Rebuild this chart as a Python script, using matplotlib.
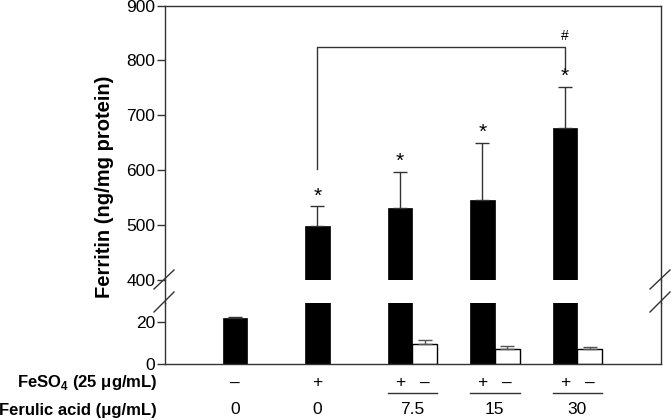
import numpy as np
import matplotlib
matplotlib.use('Agg')
import matplotlib.pyplot as plt
from matplotlib.lines import Line2D
from matplotlib.transforms import blended_transform_factory

plt.rcParams['font.family'] = ['Liberation Sans', 'DejaVu Sans']
plt.rcParams['mathtext.fontset'] = 'custom'
plt.rcParams['mathtext.rm'] = 'Liberation Sans'
plt.rcParams['mathtext.bf'] = 'Liberation Sans:bold'

# data
groups = ['0', '0', '7.5', '15', '30']
feso4_mean = [21.8, 499, 531, 546, 677]
feso4_err = [0.4, 35, 66, 104, 75]
fa_groups = [2, 3, 4]
fa_mean = [9.4, 7.0, 7.3]
fa_err = [1.9, 1.7, 0.9]
feso4_row = ['–', '+', '+', '+', '+']
sig_star = [False, True, True, True, True]

width = 0.30
x_black = np.arange(len(groups))
x_white = np.array(fa_groups) + width
edge = '#333333'

fig = plt.figure(figsize=(6.72, 4.2), dpi=100)
L, R = 165 / 672, 661 / 672
ax_top = fig.add_axes([L, 1 - 280 / 420, R - L, (280 - 5.5) / 420])
ax_bot = fig.add_axes([L, 1 - 364 / 420, R - L, (364 - 303) / 420])

for ax in (ax_top, ax_bot):
    ax.bar(x_black, feso4_mean, width, color='black', edgecolor='black', lw=0.5)
    ax.errorbar(x_black, feso4_mean, yerr=[np.zeros(5), feso4_err], fmt='none',
                ecolor=edge, elinewidth=1, capsize=5, capthick=1)
    ax.bar(x_white, fa_mean, width, color='white', edgecolor='black', lw=1)
    ax.errorbar(x_white, fa_mean, yerr=[np.zeros(3), fa_err], fmt='none',
                ecolor='#555555', elinewidth=1, capsize=5, capthick=1)
    ax.set_xlim(-0.848, 5.164)
    ax.set_xticks([])
    for s in ax.spines.values():
        s.set_color(edge)
        s.set_linewidth(1)
    ax.tick_params(axis='y', direction='out', length=6, width=1, color=edge,
                   labelsize=12.5, pad=1)

ax_top.set_ylim(400, 900)
ax_top.set_yticks([400, 500, 600, 700, 800, 900])
ax_top.spines['bottom'].set_visible(False)
ax_bot.set_ylim(0, 29)
ax_bot.set_yticks([0, 20])
ax_bot.spines['top'].set_visible(False)

# spines across the gap
for xf in (L, R):
    fig.add_artist(Line2D([xf, xf], [1 - 303 / 420, 1 - 280 / 420], color=edge, lw=1))
    for y0, y1 in ((289, 270), (312, 292)):
        fig.add_artist(Line2D([xf - 11 / 672, xf + 9 / 672], [1 - y0 / 420, 1 - y1 / 420],
                              color=edge, lw=1))

# significance marks
for i in range(5):
    if sig_star[i]:
        ax_top.text(x_black[i], feso4_mean[i] + feso4_err[i] + 2, '*', ha='center',
                    va='bottom', fontsize=15)
ax_top.plot([1, 1, 4, 4], [603, 825, 825, 785], color=edge, lw=1)
ax_top.text(4, 832, '#', ha='center', va='bottom', fontsize=10)

fig.text(0.156, 1 - 187 / 420, 'Ferritin (ng/mg protein)', rotation=90, ha='center',
         va='center', fontsize=14.5, fontweight='bold')

# bottom table
blend = blended_transform_factory(ax_bot.transData, fig.transFigure)
row1 = 1 - 383 / 420
row2 = 1 - 410 / 420
fig.text(157 / 672, row1, r'FeSO$_{\mathbf{4}}$ (25 μg/mL)', ha='right', va='center',
         fontsize=12, fontweight='bold')
fig.text(157 / 672, row2, 'Ferulic acid (μg/mL)', ha='right', va='center',
         fontsize=12, fontweight='bold')
for i in range(len(groups)):
    fig.text(x_black[i], row1, feso4_row[i], ha='center', va='center', fontsize=12.5,
             transform=blend)
for xw in x_white:
    fig.text(xw, row1, '–', ha='center', va='center', fontsize=12.5, transform=blend)
for i, g in enumerate(groups):
    xc = x_black[i] + (width / 2 if i in fa_groups else 0)
    fig.text(xc, row2, g, ha='center', va='center', fontsize=12.5, transform=blend)
for i in fa_groups:
    fig.add_artist(Line2D([x_black[i] - width / 2, x_black[i] + 1.5 * width],
                          [1 - 393 / 420] * 2, color=edge, lw=1, transform=blend))

fig.savefig('out.png', dpi=100)
